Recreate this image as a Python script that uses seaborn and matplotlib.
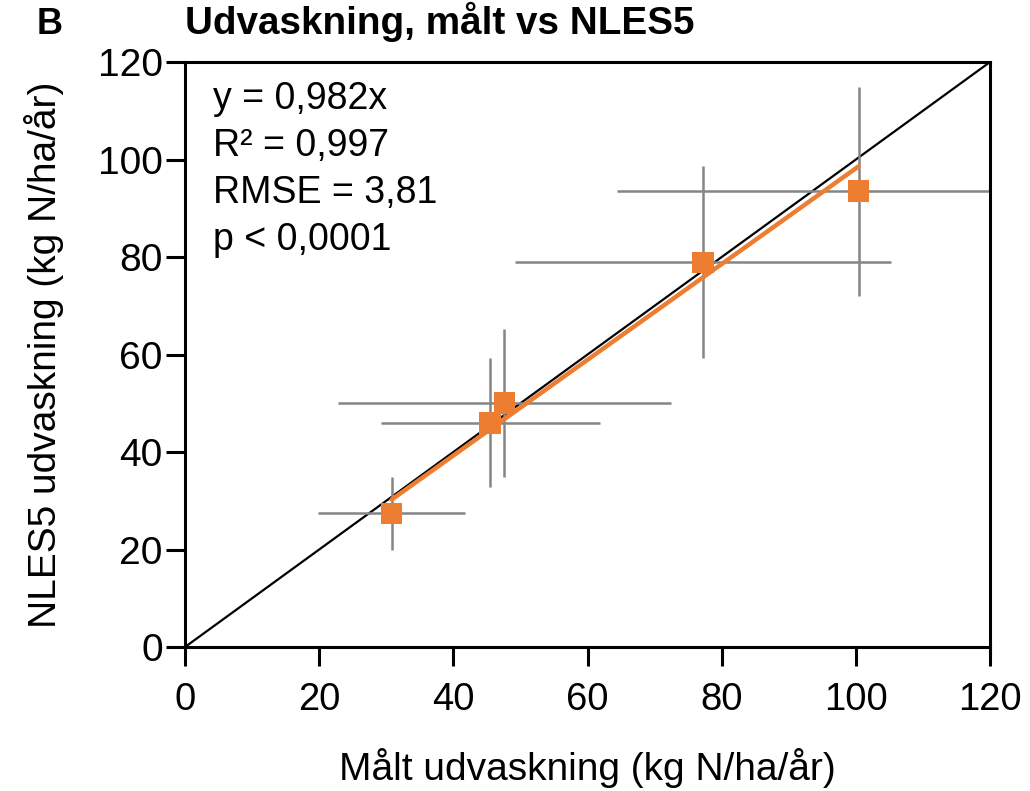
import matplotlib
matplotlib.use("Agg")
import matplotlib.pyplot as plt
import seaborn as sns
import pandas as pd
import numpy as np

# Measured vs. modelled nitrate leaching (kg N/ha/yr), with standard deviations
maalt = [30.8, 45.5, 47.6, 77.2, 100.4]
nles5 = [27.4, 46.0, 50.1, 78.9, 93.5]
maalt_sd = [11.0, 16.3, 24.8, 28.0, 36.0]
nles5_sd = [7.5, 13.2, 15.2, 19.7, 21.4]
slope = 0.982
stats_lines = ["y = 0,982x", "R² = 0,997", "RMSE = 3,81", "p < 0,0001"]
ticks = [0, 20, 40, 60, 80, 100, 120]

sns.set_theme(style="white")
plt.rcParams["font.family"] = ["Liberation Sans", "DejaVu Sans"]
plt.rcParams["text.color"] = "black"
plt.rcParams["axes.labelcolor"] = "black"
plt.rcParams["xtick.color"] = "black"
plt.rcParams["ytick.color"] = "black"

df = pd.DataFrame({"maalt": maalt, "nles5": nles5})
orange = "#ED7D31"
grey = "#858585"

fig = plt.figure(figsize=(10.30, 7.91), dpi=100)
ax = fig.add_axes([0.1796, 0.182, 0.7816, 0.7396])

# 1:1 line
ax.plot([0, 120], [0, 120], color="black", lw=1.6, zorder=1)

# error bars
ax.errorbar(maalt, nles5, xerr=maalt_sd, yerr=nles5_sd, fmt="none",
            ecolor=grey, elinewidth=1.8, capsize=0, zorder=2)

# regression through the origin
xs = np.array([min(maalt), max(maalt)])
ax.plot(xs, slope * xs, color=orange, lw=3.2, zorder=3)

sns.scatterplot(data=df, x="maalt", y="nles5", marker="s", s=240,
                color=orange, edgecolor="none", zorder=4, ax=ax)

ax.set_xlim(0, 120)
ax.set_ylim(0, 120)
ax.set_xticks(ticks)
ax.set_yticks(ticks)
ax.set_xticklabels([str(t) for t in ticks], fontsize=27.5)
ax.set_yticklabels([str(t) for t in ticks], fontsize=28)
ax.tick_params(axis="both", direction="out", length=14, width=2.2,
               color="black", left=True, bottom=True)
ax.tick_params(axis="x", pad=11)
ax.tick_params(axis="y", pad=2)
for sp in ax.spines.values():
    sp.set_visible(True)
    sp.set_color("black")
    sp.set_linewidth(2.2)

ax.set_xlabel("Målt udvaskning (kg N/ha/år)", fontsize=28, labelpad=22)
ax.set_ylabel("NLES5 udvaskning (kg N/ha/år)", fontsize=28, labelpad=24)

ax.text(0.035, 0.968, "\n".join(stats_lines), transform=ax.transAxes,
        fontsize=27, va="top", ha="left", linespacing=1.4)

fig.text(0.036, 0.957, "B", fontsize=26, fontweight="bold", va="baseline")
fig.text(0.1796, 0.957, "Udvaskning, målt vs NLES5", fontsize=27.8,
         fontweight="bold", va="baseline")

fig.savefig("out.png", dpi=100)
